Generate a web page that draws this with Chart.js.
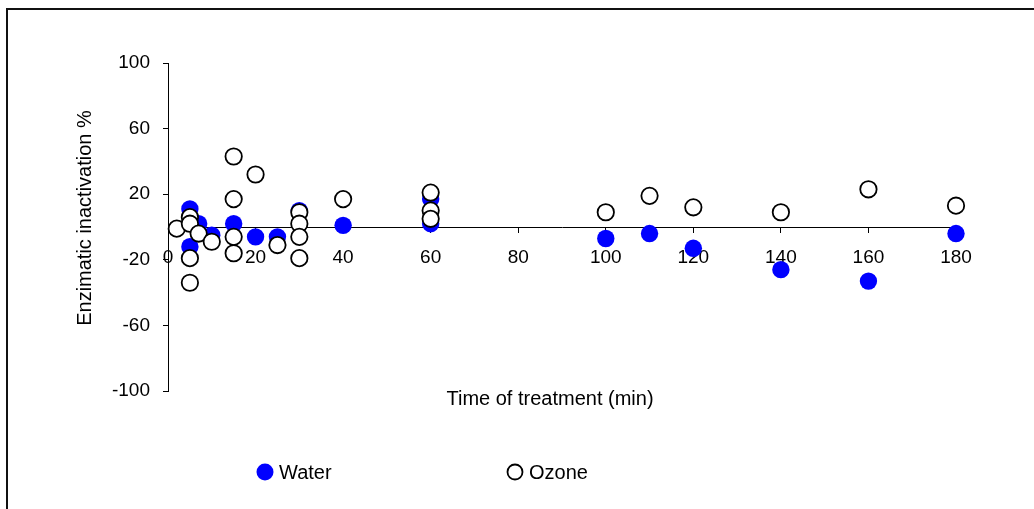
<!DOCTYPE html>
<html>
<head>
<meta charset="utf-8">
<script src="https://cdn.jsdelivr.net/npm/chart.js@4/dist/chart.umd.min.js"></script>
<style>
  html, body { margin: 0; padding: 0; background: #fff; }
  #wrap { position: relative; width: 1034px; height: 509px; overflow: hidden; }
  #frame { position: absolute; left: 6px; top: 8px; width: 2000px; height: 2000px;
           border-left: 2px solid #111; border-top: 2px solid #111; pointer-events: none; }
  canvas { position: absolute; left: 0; top: 0; }
</style>
</head>
<body>
<div id="wrap">
  <canvas id="c" width="1034" height="509"></canvas>
  <div id="frame"></div>
</div>
<script>
// ---- data ----
const waterX = [5, 7, 5, 10, 15, 20, 25, 30, 40, 60, 60, 100, 110, 120, 140, 160, 180];
const waterY = [11, 2, -12, -5, 2, -6, -6, 10, 1, 17, 2, -7, -4, -13, -26, -33, -4];
const ozoneX = [2, 5, 5, 7, 10, 5, 5, 15, 20, 15, 15, 15, 25, 30, 30, 30, 30, 40, 60, 60, 60, 100, 110, 120, 140, 160, 180];
const ozoneY = [-1, 6, 2, -4, -9, -19, -34, 43, 32, 17, -6, -16, -11, 9, 2, -6, -19, 17, 21, 10, 5, 9, 19, 12, 9, 23, 13];
const seriesNames = ['Water', 'Ozone'];
const xTitle = 'Time of treatment (min)';
const yTitle = 'Enzimatic inactivation %';

const FONT = '"Liberation Sans", Arial, sans-serif';
const toPts = (xs, ys) => xs.map((x, i) => ({ x: x, y: ys[i] }));

const textPlugin = {
  id: 'texts',
  afterDraw(chart) {
    const ctx = chart.ctx;
    ctx.save();
    ctx.fillStyle = '#000';
    ctx.font = '20px ' + FONT;
    ctx.textAlign = 'center';
    ctx.textBaseline = 'middle';
    ctx.fillText(xTitle, 550, 399);
    ctx.save();
    ctx.translate(85, 218);
    ctx.rotate(-Math.PI / 2);
    ctx.fillText(yTitle, 0, 0);
    ctx.restore();
    // legend
    const ds = chart.data.datasets;
    const items = [
      { d: ds[1], x: 265, r: 8.5 },
      { d: ds[0], x: 515, r: 7.5 }
    ];
    const ly = 472;
    ctx.textAlign = 'left';
    items.forEach(it => {
      ctx.beginPath();
      ctx.arc(it.x, ly, it.r, 0, Math.PI * 2);
      ctx.fillStyle = it.d.backgroundColor;
      ctx.fill();
      if (it.d.borderWidth) {
        ctx.lineWidth = it.d.borderWidth;
        ctx.strokeStyle = it.d.borderColor;
        ctx.stroke();
      }
      ctx.fillStyle = '#000';
      ctx.font = '20px ' + FONT;
      ctx.fillText(it.d.label, it.x + 14, ly + 1);
    });
    ctx.restore();
  }
};

new Chart(document.getElementById('c'), {
  type: 'scatter',
  data: {
    datasets: [
      {
        label: seriesNames[1],
        data: toPts(ozoneX, ozoneY),
        backgroundColor: '#ffffff',
        borderColor: '#000000',
        borderWidth: 1.8,
        pointRadius: 8.2,
        pointHoverRadius: 8.2,
        clip: false,
        order: 0
      },
      {
        label: seriesNames[0],
        data: toPts(waterX, waterY),
        backgroundColor: '#0000ff',
        borderColor: '#0000ff',
        borderWidth: 0,
        pointRadius: 8.7,
        pointHoverRadius: 8.7,
        clip: false,
        order: 1
      }
    ]
  },
  options: {
    responsive: false,
    animation: false,
    events: [],
    layout: { padding: { top: 63, right: 78, bottom: 118, left: 0 } },
    plugins: { legend: { display: false }, tooltip: { enabled: false } },
    scales: {
      x: {
        type: 'linear',
        position: { y: 0 },
        min: 0, max: 180,
        border: { display: true, color: '#000', width: 1 },
        grid: { drawOnChartArea: false, drawTicks: true, tickLength: 5, color: '#000' },
        ticks: { stepSize: 20, color: '#000', font: { size: 19, family: FONT }, padding: 14, maxRotation: 0 }
      },
      y: {
        type: 'linear',
        position: 'left',
        min: -100, max: 100,
        afterFit(scale) { scale.width = 168; },
        border: { display: true, color: '#000', width: 1 },
        grid: { drawOnChartArea: false, drawTicks: true, tickLength: 5, color: '#000' },
        ticks: { stepSize: 40, color: '#000', font: { size: 19, family: FONT }, padding: 13 }
      }
    }
  },
  plugins: [textPlugin]
});
</script>
</body>
</html>
